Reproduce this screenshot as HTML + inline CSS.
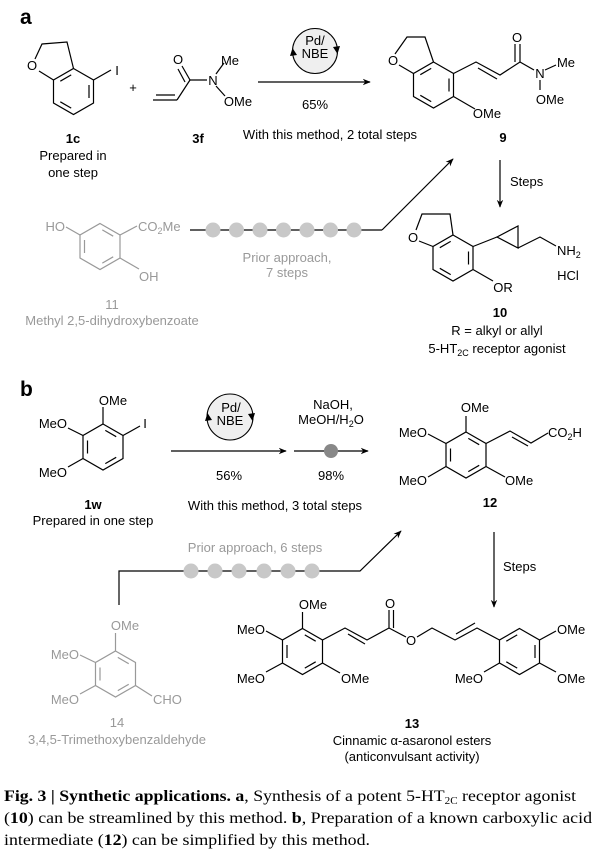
<!DOCTYPE html>
<html><head><meta charset="utf-8"><style>
html,body{margin:0;padding:0;background:#fff;}
svg{display:block;font-family:"Liberation Sans",sans-serif;}
</style></head><body>
<svg width="603" height="850" viewBox="0 0 603 850" xmlns="http://www.w3.org/2000/svg">
<defs>
<marker id="ah" viewBox="0 0 10 10" refX="9" refY="5" markerWidth="8" markerHeight="8" orient="auto" markerUnits="userSpaceOnUse"><path d="M0,1 L10,5 L0,9 L3,5z" fill="#000"/></marker>
<g id="rx" fill="none"><polygon points="0,-23 20,-11.5 20,11.5 0,23 -20,11.5 -20,-11.5"/><line x1="15.5" y1="-6.5" x2="15.5" y2="6.5"/><line x1="-2.3" y1="16.6" x2="-13.2" y2="10.3"/><line x1="-13.2" y1="-10.3" x2="-2.3" y2="-16.6"/></g>
<g id="ry" fill="none"><polygon points="0,-23 20,-11.5 20,11.5 0,23 -20,11.5 -20,-11.5"/><line x1="2.3" y1="-16.6" x2="13.2" y2="-10.3"/><line x1="13.2" y1="10.3" x2="2.3" y2="16.6"/><line x1="-15.5" y1="6.5" x2="-15.5" y2="-6.5"/></g>
</defs>

<g fill="#000" stroke="none">
<text x="20" y="24" font-size="21" font-weight="bold">a</text>
<text x="20" y="396" font-size="21" font-weight="bold">b</text>
</g>

<!-- ===== PART A ===== -->
<g stroke="#000" stroke-width="1.2" fill="none">
 <use href="#rx" x="73.5" y="91.5"/>
 <polyline points="53.5,80 39,71"/>
 <polyline points="35,59 42,44 67,42 73.5,68.5"/>
 <line x1="93.5" y1="80" x2="111" y2="70"/>
 <line x1="153" y1="100" x2="177" y2="100"/><line x1="156" y1="95" x2="175" y2="95"/>
 <line x1="177" y1="100" x2="190" y2="80"/>
 <line x1="190" y1="80" x2="182" y2="66"/><line x1="185" y1="82" x2="178" y2="69"/>
 <line x1="190" y1="80" x2="207" y2="80"/>
 <line x1="216" y1="74" x2="224" y2="63"/>
 <line x1="216" y1="86" x2="225" y2="96"/>
 <line x1="258" y1="82" x2="370" y2="82" marker-end="url(#ah)"/>
 <use href="#rx" x="433.5" y="85"/>
 <line x1="413.5" y1="73.5" x2="399" y2="65"/>
 <polyline points="395,54 407,37 425,37 433.5,62"/>
 <polyline points="453.5,73.5 476,62 500,75 520,62"/>
 <line x1="478" y1="68" x2="497" y2="79"/>
 <line x1="520" y1="62" x2="520" y2="44"/><line x1="515" y1="62" x2="515" y2="44"/>
 <line x1="520" y1="62" x2="534" y2="70"/>
 <line x1="545" y1="70" x2="556" y2="65"/>
 <line x1="540" y1="80" x2="540" y2="90"/>
 <line x1="453.5" y1="96.5" x2="475" y2="109"/>
 <line x1="500" y1="160" x2="500" y2="207" marker-end="url(#ah)"/>
 <use href="#rx" x="453" y="258"/>
 <line x1="433" y1="246.5" x2="419" y2="241"/>
 <polyline points="416,230 422,214 450,214 453,235"/>
 <line x1="473" y1="246.5" x2="497" y2="237"/>
 <polygon points="497,237 518,226 518,248"/>
 <polyline points="518,248 540,237 556,246"/>
 <line x1="473" y1="269.5" x2="493" y2="281"/>
 <line x1="382" y1="230" x2="453" y2="159" marker-end="url(#ah)"/>
</g>
<g stroke="#000" stroke-width="1.1">
 <circle cx="315" cy="51" r="22.5" fill="#efefef"/>
 <path d="M290,56 l2.5,-8 l4.5,7z" fill="#000" stroke="none"/>
 <path d="M340,46 l-2.5,8 l-4.5,-7z" fill="#000" stroke="none"/>
</g>
<g fill="#c8c8c8">
 <line x1="190" y1="230" x2="382" y2="230" stroke="#000" stroke-width="1.2"/>
 <circle cx="213" cy="230" r="7.5"/><circle cx="236.5" cy="230" r="7.5"/><circle cx="260" cy="230" r="7.5"/><circle cx="283.5" cy="230" r="7.5"/><circle cx="307" cy="230" r="7.5"/><circle cx="330.5" cy="230" r="7.5"/><circle cx="354" cy="230" r="7.5"/>
</g>
<g stroke="#999" stroke-width="1.2" fill="none">
 <use href="#ry" x="100" y="246.5"/>
 <line x1="80" y1="235" x2="66" y2="227"/>
 <line x1="120" y1="235" x2="137" y2="226"/>
 <line x1="120" y1="258" x2="139" y2="269"/>
</g>

<g font-size="13" fill="#000">
 <text x="32" y="70" text-anchor="middle">O</text>
 <text x="117" y="75" text-anchor="middle">I</text>
 <text x="133" y="92" text-anchor="middle">+</text>
 <text x="178" y="64" text-anchor="middle">O</text>
 <text x="213" y="85" text-anchor="middle">N</text>
 <text x="230" y="65" text-anchor="middle">Me</text>
 <text x="238" y="106" text-anchor="middle">OMe</text>
 <text x="73" y="143" text-anchor="middle" font-weight="bold">1c</text>
 <text x="73" y="160" text-anchor="middle">Prepared in</text>
 <text x="73" y="177" text-anchor="middle">one step</text>
 <text x="198" y="143" text-anchor="middle" font-weight="bold">3f</text>
 <text x="315" y="45" text-anchor="middle">Pd/</text>
 <text x="315" y="58" text-anchor="middle">NBE</text>
 <text x="315" y="109" text-anchor="middle">65%</text>
 <text x="330" y="139" text-anchor="middle">With this method, 2 total steps</text>
 <text x="393" y="65" text-anchor="middle">O</text>
 <text x="517" y="42" text-anchor="middle">O</text>
 <text x="540" y="78" text-anchor="middle">N</text>
 <text x="566" y="67" text-anchor="middle">Me</text>
 <text x="550" y="104" text-anchor="middle">OMe</text>
 <text x="487" y="118" text-anchor="middle">OMe</text>
 <text x="503" y="142" text-anchor="middle" font-weight="bold">9</text>
 <text x="510" y="186">Steps</text>
 <text x="413" y="242" text-anchor="middle">O</text>
 <text x="557" y="255">NH<tspan font-size="9" dy="3">2</tspan></text>
 <text x="568" y="280" text-anchor="middle">HCl</text>
 <text x="503" y="292" text-anchor="middle">OR</text>
 <text x="500" y="317" text-anchor="middle" font-weight="bold">10</text>
 <text x="497" y="335" text-anchor="middle">R = alkyl or allyl</text>
 <text x="497" y="353" text-anchor="middle">5-HT<tspan font-size="9" dy="3">2C</tspan><tspan dy="-3"> receptor agonist</tspan></text>
</g>
<g font-size="13" fill="#999">
 <text x="65" y="231" text-anchor="end">HO</text>
 <text x="138" y="231">CO<tspan font-size="9" dy="3">2</tspan><tspan dy="-3">Me</tspan></text>
 <text x="139" y="281">OH</text>
 <text x="112" y="309" text-anchor="middle">11</text>
 <text x="112" y="325" text-anchor="middle">Methyl 2,5-dihydroxybenzoate</text>
 <text x="287" y="262" text-anchor="middle">Prior approach,</text>
 <text x="287" y="277" text-anchor="middle">7 steps</text>
</g>

<!-- ===== PART B ===== -->
<g stroke="#000" stroke-width="1.2" fill="none">
 <use href="#ry" x="103" y="447"/>
 <line x1="103" y1="424" x2="103" y2="407"/>
 <line x1="83" y1="435.5" x2="68" y2="428"/>
 <line x1="83" y1="458.5" x2="68" y2="467"/>
 <line x1="123" y1="435.5" x2="140" y2="426"/>
 <line x1="171" y1="451" x2="286" y2="451" marker-end="url(#ah)"/>
 <line x1="294" y1="451" x2="368" y2="451" marker-end="url(#ah)"/>
 <use href="#ry" x="466" y="455"/>
 <line x1="466" y1="432" x2="466" y2="416"/>
 <line x1="446" y1="443.5" x2="428" y2="434"/>
 <line x1="446" y1="466.5" x2="428" y2="477"/>
 <line x1="486" y1="466.5" x2="505" y2="477"/>
 <polyline points="486,443.5 510,431 531,443 548,433"/>
 <line x1="512" y1="437" x2="528" y2="446"/>
 <line x1="494" y1="532" x2="494" y2="607" marker-end="url(#ah)"/>
 <use href="#ry" x="302.5" y="651.5"/>
 <line x1="302.5" y1="628.5" x2="302.5" y2="612"/>
 <line x1="282.5" y1="640" x2="266" y2="631"/>
 <line x1="282.5" y1="663" x2="266" y2="672"/>
 <line x1="322.5" y1="663" x2="340" y2="673"/>
 <polyline points="322.5,640 345,628 367,640 389,628 406,637"/>
 <line x1="348" y1="634" x2="365" y2="644"/>
 <line x1="389" y1="628" x2="389" y2="610"/><line x1="393.5" y1="628" x2="393.5" y2="610"/>
 <polyline points="417,637 432,628 455,640 477,628 499.5,640"/>
 <line x1="456" y1="634" x2="475" y2="623"/>
 <use href="#rx" x="519.5" y="651.5"/>
 <line x1="539.5" y1="640" x2="556" y2="631"/>
 <line x1="539.5" y1="663" x2="556" y2="672"/>
 <line x1="499.5" y1="663" x2="484" y2="672"/>
 <polyline points="119,605 119,571 360,571 401,531" marker-end="url(#ah)"/>
</g>
<g fill="#c8c8c8">
 <circle cx="191" cy="571" r="7.5"/><circle cx="215" cy="571" r="7.5"/><circle cx="239" cy="571" r="7.5"/><circle cx="264" cy="571" r="7.5"/><circle cx="288" cy="571" r="7.5"/><circle cx="312" cy="571" r="7.5"/>
</g>
<circle cx="331" cy="451" r="7" fill="#888"/>
<g stroke="#000" stroke-width="1.1">
 <circle cx="230" cy="417" r="23" fill="#efefef"/>
 <path d="M205,421 l2.5,-8 l4.5,7z" fill="#000" stroke="none"/>
 <path d="M255,413 l-2.5,8 l-4.5,-7z" fill="#000" stroke="none"/>
</g>
<g stroke="#999" stroke-width="1.2" fill="none">
 <use href="#ry" x="115.5" y="674"/>
 <line x1="115.5" y1="651" x2="115.5" y2="633"/>
 <line x1="95.5" y1="662.5" x2="80" y2="655"/>
 <line x1="95.5" y1="685.5" x2="80" y2="694"/>
 <line x1="135.5" y1="685.5" x2="152" y2="696"/>
</g>
<g font-size="13" fill="#000">
 <text x="113" y="405" text-anchor="middle">OMe</text>
 <text x="67" y="428" text-anchor="end">MeO</text>
 <text x="67" y="477" text-anchor="end">MeO</text>
 <text x="145" y="428" text-anchor="middle">I</text>
 <text x="93" y="509" text-anchor="middle" font-weight="bold">1w</text>
 <text x="93" y="525" text-anchor="middle">Prepared in one step</text>
 <text x="231" y="412" text-anchor="middle">Pd/</text>
 <text x="230" y="425" text-anchor="middle">NBE</text>
 <text x="333" y="409" text-anchor="middle">NaOH,</text>
 <text x="331" y="424" text-anchor="middle">MeOH/H<tspan font-size="9" dy="3">2</tspan><tspan dy="-3">O</tspan></text>
 <text x="229" y="480" text-anchor="middle">56%</text>
 <text x="331" y="480" text-anchor="middle">98%</text>
 <text x="275" y="510" text-anchor="middle">With this method, 3 total steps</text>
 <text x="475" y="412" text-anchor="middle">OMe</text>
 <text x="427" y="437" text-anchor="end">MeO</text>
 <text x="427" y="485" text-anchor="end">MeO</text>
 <text x="505" y="485">OMe</text>
 <text x="548" y="437">CO<tspan font-size="9" dy="3">2</tspan><tspan dy="-3">H</tspan></text>
 <text x="490" y="507" text-anchor="middle" font-weight="bold">12</text>
 <text x="503" y="571">Steps</text>
 <text x="313" y="609" text-anchor="middle">OMe</text>
 <text x="265" y="634" text-anchor="end">MeO</text>
 <text x="265" y="683" text-anchor="end">MeO</text>
 <text x="341" y="683">OMe</text>
 <text x="390" y="608" text-anchor="middle">O</text>
 <text x="411" y="645" text-anchor="middle">O</text>
 <text x="557" y="634">OMe</text>
 <text x="557" y="683">OMe</text>
 <text x="483" y="683" text-anchor="end">MeO</text>
 <text x="412" y="728" text-anchor="middle" font-weight="bold">13</text>
 <text x="412" y="745" text-anchor="middle">Cinnamic α-asaronol esters</text>
 <text x="412" y="761" text-anchor="middle">(anticonvulsant activity)</text>
</g>
<g font-size="13" fill="#999">
 <text x="255" y="552" text-anchor="middle">Prior approach, 6 steps</text>
 <text x="125" y="630" text-anchor="middle">OMe</text>
 <text x="79" y="659" text-anchor="end">MeO</text>
 <text x="79" y="704" text-anchor="end">MeO</text>
 <text x="153" y="704">CHO</text>
 <text x="117" y="727" text-anchor="middle">14</text>
 <text x="117" y="744" text-anchor="middle">3,4,5-Trimethoxybenzaldehyde</text>
</g>

<g font-family="'Liberation Serif',serif" font-size="16" fill="#000">
 <text x="4" y="801" textLength="572" lengthAdjust="spacingAndGlyphs"><tspan font-weight="bold">Fig. 3 | Synthetic applications. a</tspan>, Synthesis of a potent 5-HT<tspan font-size="10" dy="3">2C</tspan><tspan dy="-3"> receptor agonist</tspan></text>
 <text x="4" y="823" textLength="588" lengthAdjust="spacingAndGlyphs">(<tspan font-weight="bold">10</tspan>) can be streamlined by this method. <tspan font-weight="bold">b</tspan>, Preparation of a known carboxylic acid</text>
 <text x="4" y="845" textLength="366" lengthAdjust="spacingAndGlyphs">intermediate (<tspan font-weight="bold">12</tspan>) can be simplified by this method.</text>
</g>
</svg>
</body></html>
